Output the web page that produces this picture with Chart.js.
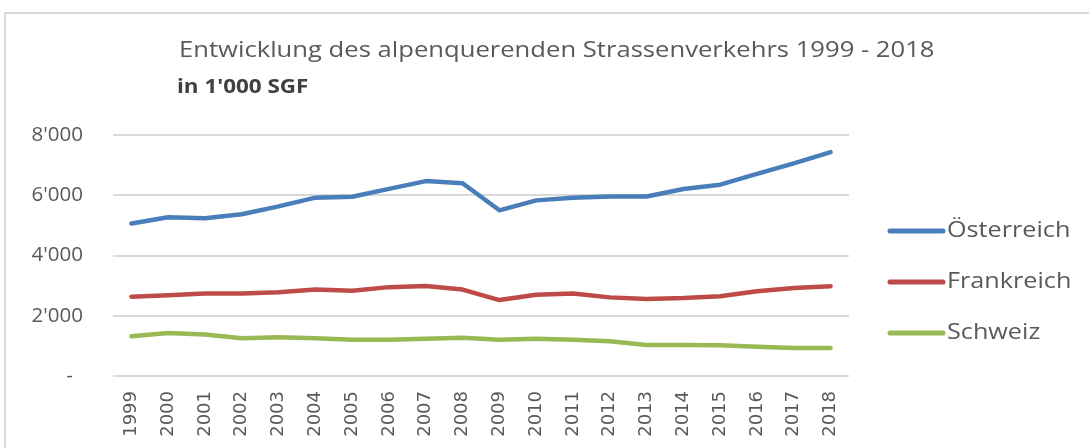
<!DOCTYPE html>
<html>
<head>
<meta charset="utf-8">
<script src="https://cdn.jsdelivr.net/npm/chart.js@4"></script>
<style>
  html, body { margin: 0; padding: 0; background: #fff; }
  #wrap { position: relative; width: 1089px; height: 448px; overflow: hidden; }
  #frame { position: absolute; left: 4px; top: 12px; width: 1100px; height: 460px; border: 2px solid #d9d9d9; box-sizing: border-box; }
  canvas { position: absolute; left: 0; top: 0; }
</style>
</head>
<body>
<div id="wrap">
  <div id="frame"></div>
  <canvas id="chart" width="1089" height="448"></canvas>
</div>
<script>
const years = ['1999', '2000', '2001', '2002', '2003', '2004', '2005', '2006', '2007', '2008',
               '2009', '2010', '2011', '2012', '2013', '2014', '2015', '2016', '2017', '2018'];
const oesterreich = [5060, 5270, 5240, 5370, 5630, 5920, 5950, 6210, 6470, 6400,
                     5500, 5830, 5920, 5960, 5960, 6210, 6350, 6710, 7060, 7430];
const frankreich = [2630, 2680, 2740, 2740, 2780, 2870, 2830, 2950, 2990, 2870,
                    2520, 2700, 2740, 2610, 2560, 2590, 2650, 2810, 2920, 2980];
const schweiz = [1320, 1430, 1380, 1250, 1290, 1250, 1200, 1200, 1240, 1270,
                 1200, 1240, 1200, 1150, 1030, 1030, 1020, 970, 930, 930];
const yTickValues = [0, 2000, 4000, 6000, 8000];
const yTickLabels = ['-\u2002', "2'000", "4'000", "6'000", "8'000"];
const titleText = 'Entwicklung des alpenquerenden Strassenverkehrs 1999 - 2018';
const subtitleText = "in 1'000 SGF";

// text drawn a bit wider than the font, like the original
function wideText(ctx, text, x, y, sx) {
  ctx.save();
  ctx.translate(x, y);
  ctx.scale(sx, 1);
  ctx.fillText(text, 0, 0);
  ctx.restore();
}

// title + subtitle
const titleLines = {
  id: 'titleLines',
  afterDraw(chart) {
    const ctx = chart.ctx;
    ctx.save();
    ctx.textBaseline = 'middle';
    ctx.fillStyle = '#595959';
    ctx.font = '21px "Open Sans"';
    wideText(ctx, titleText, 179, 51, 1.22);
    ctx.fillStyle = '#404040';
    ctx.font = 'bold 19px "Open Sans"';
    wideText(ctx, subtitleText, 177, 88, 1.18);
    ctx.restore();
  }
};

// legend on the right
const sideLegend = {
  id: 'sideLegend',
  afterDraw(chart) {
    const ctx = chart.ctx;
    const rows = [231, 282, 333];
    ctx.save();
    chart.data.datasets.forEach((ds, i) => {
      const y = rows[i];
      ctx.strokeStyle = ds.borderColor;
      ctx.lineWidth = 5;
      ctx.lineCap = 'round';
      ctx.beginPath();
      ctx.moveTo(890, y);
      ctx.lineTo(943, y);
      ctx.stroke();
      ctx.fillStyle = '#595959';
      ctx.font = '21px "Open Sans"';
      ctx.textBaseline = 'middle';
      wideText(ctx, ds.label, 947, y, 1.2);
    });
    ctx.restore();
  }
};

const ctx = document.getElementById('chart').getContext('2d');
const chart = new Chart(ctx, {
  type: 'line',
  data: {
    labels: years,
    datasets: [
      { label: 'Österreich', data: oesterreich, borderColor: '#4a7ebb', backgroundColor: '#4a7ebb' },
      { label: 'Frankreich', data: frankreich, borderColor: '#be4b48', backgroundColor: '#be4b48' },
      { label: 'Schweiz', data: schweiz, borderColor: '#98b954', backgroundColor: '#98b954' }
    ]
  },
  options: {
    responsive: false,
    animation: false,
    devicePixelRatio: 1,
    layout: { padding: { left: 13, top: 135, right: 240, bottom: 0 } },
    elements: {
      line: { borderWidth: 4.5, tension: 0, borderCapStyle: 'round', borderJoinStyle: 'round' },
      point: { radius: 0, hoverRadius: 0 }
    },
    plugins: {
      legend: { display: false },
      title: { display: false },
      tooltip: { enabled: false }
    },
    scales: {
      x: {
        offset: true,
        grid: { display: false, drawTicks: false },
        border: { display: false },
        ticks: {
          minRotation: 90, maxRotation: 90, padding: 15, autoSkip: false,
          color: '#595959', font: { family: '"DejaVu Sans"', size: 18 }
        },
        afterFit(s) { s.height = 72; }
      },
      y: {
        min: 0, max: 8000,
        afterBuildTicks(s) { s.ticks = yTickValues.map(v => ({ value: v })); },
        grid: { color: '#d9d9d9', lineWidth: 2, drawTicks: false },
        border: { display: false },
        ticks: {
          padding: 30,
          color: '#595959', font: { family: '"Open Sans"', size: 20.5 },
          callback: (v) => yTickLabels[yTickValues.indexOf(v)]
        },
        afterFit(s) { s.width = 100; }
      }
    }
  },
  plugins: [titleLines, sideLegend]
});
</script>
</body>
</html>
